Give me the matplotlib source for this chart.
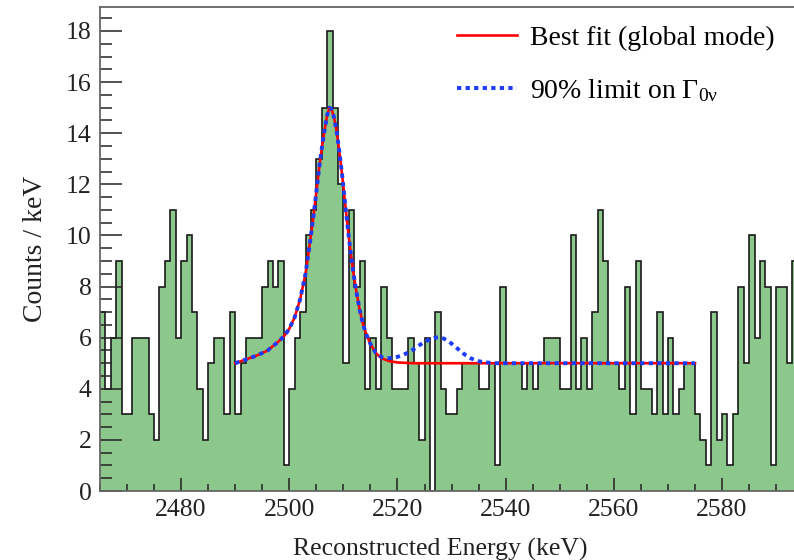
import numpy as np
import matplotlib
matplotlib.use('Agg')
import matplotlib.pyplot as plt

plt.rcParams['font.family'] = ['Liberation Serif', 'DejaVu Serif']
plt.rcParams['mathtext.fontset'] = 'custom'
plt.rcParams['mathtext.rm'] = 'Liberation Serif'
plt.rcParams['mathtext.it'] = 'Liberation Serif:italic'
plt.rcParams['mathtext.default'] = 'regular'

# histogram: counts per 1 keV bin, first bin starts at 2465 keV
bin_lo = 2465
counts = [7, 4, 6, 9, 3, 3, 6, 6, 6, 3,
          2, 8, 9, 11, 6, 9, 10, 7, 4, 2,
          5, 6, 6, 3, 7, 3, 5, 6, 6, 6,
          8, 9, 8, 9, 1, 4, 6, 7, 10, 11,
          13, 15, 18, 15, 12, 5, 11, 8, 9, 4,
          6, 4, 8, 6, 4, 4, 4, 6, 5, 2,
          6, 0, 7, 4, 3, 3, 4, 5, 5, 5,
          4, 4, 5, 1, 8, 5, 5, 5, 4, 5,
          4, 5, 6, 6, 6, 4, 4, 10, 4, 6,
          4, 7, 11, 9, 5, 5, 4, 8, 3, 9,
          4, 4, 3, 7, 3, 6, 3, 4, 5, 5,
          3, 2, 1, 7, 2, 3, 1, 3, 8, 5,
          10, 6, 9, 8, 1, 8, 8, 5, 9]

# best fit curve
fit_x = [2490, 2492, 2494, 2496, 2498, 2499, 2500, 2501, 2502, 2503,
         2504, 2504.5, 2505, 2505.5, 2506, 2506.5, 2507, 2507.4, 2507.8, 2508.3,
         2508.8, 2509.3, 2509.8, 2510.3, 2510.8, 2511.3, 2511.8, 2512.4, 2513, 2513.6,
         2514.2, 2515, 2516, 2517, 2518.5, 2520, 2523, 2575]
fit_y = [5.0, 5.15, 5.3, 5.5, 5.85, 6.05, 6.35, 6.8, 7.5, 8.5,
         10.0, 10.8, 11.7, 12.6, 13.4, 14.1, 14.7, 15.0, 14.95, 14.6,
         14.0, 13.2, 12.3, 11.3, 10.3, 9.4, 8.6, 7.8, 7.1, 6.55,
         6.15, 5.75, 5.4, 5.2, 5.08, 5.03, 5.0, 5.0]

# 90% limit curve
lim_x = [2490, 2492, 2494, 2496, 2498, 2499, 2500, 2501, 2502, 2503,
         2504, 2504.5, 2505, 2505.5, 2506, 2506.5, 2507, 2507.4, 2507.8, 2508.3,
         2508.8, 2509.3, 2509.8, 2510.3, 2510.8, 2511.3, 2511.8, 2512.4, 2513, 2513.6,
         2514.2, 2515, 2516, 2517, 2518, 2519, 2520, 2521, 2522, 2523,
         2524, 2525, 2526, 2527, 2527.7, 2528.5, 2529.5, 2530.5, 2531.5, 2532.5,
         2533.5, 2534.5, 2536, 2538, 2575]
lim_y = [5.0, 5.15, 5.3, 5.5, 5.85, 6.05, 6.35, 6.8, 7.5, 8.5,
         10.0, 10.8, 11.7, 12.6, 13.4, 14.1, 14.7, 15.0, 14.95, 14.6,
         14.0, 13.2, 12.3, 11.3, 10.3, 9.4, 8.6, 7.8, 7.1, 6.55,
         6.15, 5.75, 5.4, 5.25, 5.2, 5.2, 5.25, 5.32, 5.42, 5.55,
         5.7, 5.83, 5.94, 6.0, 6.02, 5.97, 5.85, 5.68, 5.5, 5.33,
         5.2, 5.1, 5.04, 5.0, 5.0]

edges = bin_lo + np.arange(len(counts) + 1)

fig = plt.figure(figsize=(7.94, 5.6), dpi=100)
ax = fig.add_axes([0.1259, 0.1232, 0.8741, 0.8648])

ax.stairs(counts, edges, fill=True, color='#8cc78b', linewidth=0)
ax.stairs(counts, edges, baseline=None, color='#1a1a1a', linewidth=1.2)

ax.plot(fit_x, fit_y, color='#ff0000', lw=1.9, label='Best fit (global mode)')
ax.plot(lim_x, lim_y, color='#1a3cff', lw=2.8, dashes=(1.1, 1.1),
        label=r'90% limit on $\Gamma_{0\nu}$')

ax.set_xlim(2465, 2593.3)
ax.set_ylim(0, 18.95)

ax.set_xticks(np.arange(2480, 2591, 20))
ax.set_xticks(np.arange(2465, 2594, 5), minor=True)
ax.set_yticks(np.arange(0, 19, 2))
ax.set_yticks(np.arange(0, 19, 0.5), minor=True)

ax.tick_params(axis='both', which='both', direction='in', colors='#222222',
               labelsize=18.5, top=False, right=False)
ax.tick_params(axis='x', which='major', length=9.5, width=1.1, pad=6)
ax.tick_params(axis='x', which='minor', length=5, width=1.1)
ax.tick_params(axis='y', which='major', length=15.5, width=1.1, pad=6)
ax.tick_params(axis='y', which='minor', length=8.5, width=1.1)

for s in ['left', 'bottom', 'top']:
    ax.spines[s].set_color('#666666')
    ax.spines[s].set_linewidth(1.3)
ax.spines['right'].set_visible(False)

ax.set_xlabel('Reconstructed Energy (keV)', fontsize=18.5, color='#222222')
ax.set_ylabel('Counts / keV', fontsize=20, color='#222222')
ax.xaxis.set_label_coords(0.49, -0.097)
ax.yaxis.set_label_coords(-0.075, 0.5)

ax.legend(loc='upper left', bbox_to_anchor=(0.5144, 0.962), frameon=False,
          fontsize=20, handlelength=2.16, handletextpad=0.47, labelspacing=0.95,
          borderpad=0, borderaxespad=0)

fig.savefig('out.png', dpi=100)
